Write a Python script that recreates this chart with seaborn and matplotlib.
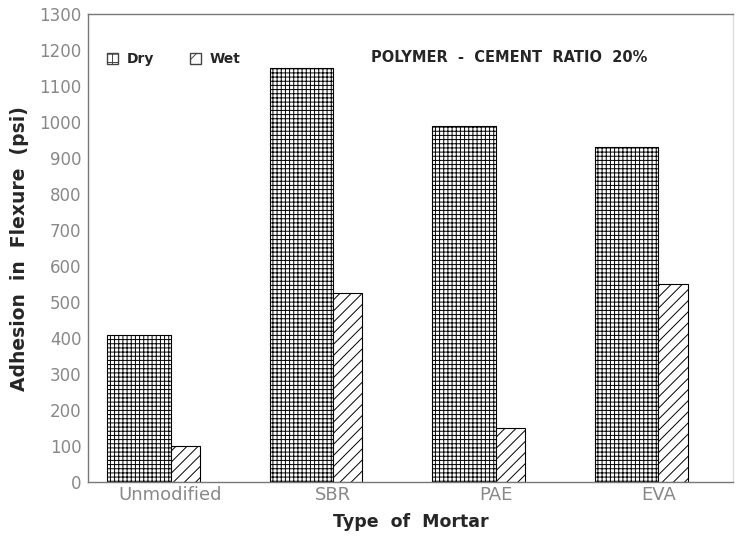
"""
Adhesion in flexure of polymer-modified mortars (dry vs wet curing)
"""

import pandas as pd
import seaborn as sns
import matplotlib.pyplot as plt
from matplotlib.patches import Patch

mortars = ["Unmodified", "SBR", "PAE", "EVA"]
dry = [410, 1150, 990, 930]
wet = [100, 525, 150, 550]
yticks = list(range(0, 1301, 100))

df = pd.DataFrame({
    "mortar": mortars * 2,
    "adhesion": dry + wet,
    "curing": ["Dry"] * 4 + ["Wet"] * 4,
})

sns.set_theme(style="white")
plt.rcParams["font.family"] = ["DejaVu Sans"]
plt.rcParams["hatch.linewidth"] = 0.7

fig = plt.figure(figsize=(7.36, 5.37), dpi=100)
ax = fig.add_axes([0.12, 0.102, 0.876, 0.872])

sns.barplot(data=df, x="mortar", y="adhesion", hue="curing", order=mortars,
            palette=["white", "white"], edgecolor="black", linewidth=0.8,
            legend=False, ax=ax)

# dry bar wide to the left of the tick, wet bar narrow to the right
dry_w, wet_w = 0.39, 0.18
for i, bar in enumerate(ax.patches):
    center = i % 4
    if i < 4:
        bar.set_x(center - dry_w)
        bar.set_width(dry_w)
        bar.set_hatch("++++")
    else:
        bar.set_x(center)
        bar.set_width(wet_w)
        bar.set_hatch("///")

ax.set_xlim(-0.506, 3.46)
ax.set_ylim(0, 1300)
ax.set_yticks(yticks)
ax.tick_params(axis="y", direction="in", length=4, width=0.8, color="#555555",
               labelsize=12, labelcolor="#888888", pad=5)
ax.tick_params(axis="x", length=0, labelsize=13, labelcolor="#888888", pad=3)
for s in ax.spines.values():
    s.set_color("#777777")
    s.set_linewidth(1.0)
ax.spines["right"].set_color("#dddddd")

ax.set_xlabel("Type  of  Mortar", fontsize=12.5, fontweight="bold", labelpad=6)
ax.set_ylabel("Adhesion  in  Flexure  (psi)", fontsize=13.5, fontweight="bold")
ax.yaxis.set_label_coords(-0.092, 0.5)

handles = [Patch(facecolor="white", edgecolor="#444444", hatch="++", label="Dry"),
           Patch(facecolor="white", edgecolor="#444444", hatch="//", label="Wet")]
ax.legend(handles=handles, loc="upper left", bbox_to_anchor=(0.01, 0.945), ncol=2,
          frameon=False, handlelength=0.8, handleheight=0.8, columnspacing=2.6,
          handletextpad=0.6, prop={"weight": "bold", "size": 10})

ax.text(0.438, 0.906, "POLYMER  -  CEMENT  RATIO  20%", transform=ax.transAxes,
        fontsize=10.5, fontweight="bold", ha="left", va="center")

plt.savefig("out.png", dpi=100)
plt.close()
